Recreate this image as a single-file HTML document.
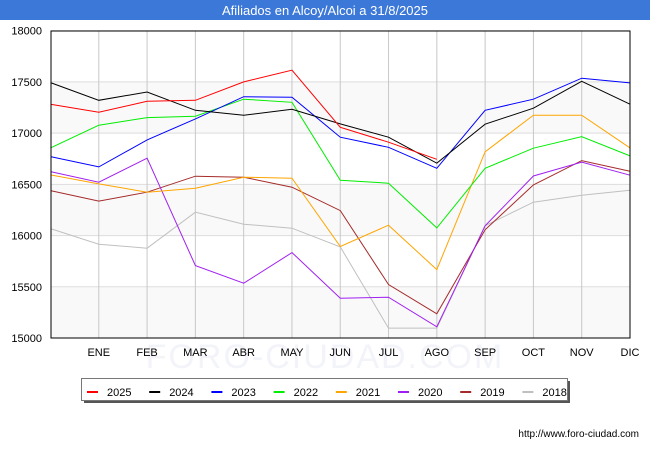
<!DOCTYPE html>
<html><head><meta charset="utf-8"><style>
body{margin:0;background:#fff;font-family:"Liberation Sans","DejaVu Sans",sans-serif}
</style></head><body>
<svg id="c" width="650" height="450" xmlns="http://www.w3.org/2000/svg">
<rect x="0" y="0" width="650" height="20" fill="#3c78d8"/>
<text x="325" y="15" text-anchor="middle" font-size="13" fill="#fff">Afiliados en Alcoy/Alcoi a 31/8/2025</text>
<text x="325" y="368" text-anchor="middle" font-size="34" fill="#f3f4f9" letter-spacing="2">FORO-CIUDAD.COM</text>
<g id="grid"></g>
<g id="series"></g>
<rect x="51" y="31" width="579" height="307" fill="none" stroke="#000" stroke-width="1"/>
<g id="legend"></g>
<text x="639" y="437" text-anchor="end" font-size="10" fill="#000">http://www.foro-ciudad.com</text>
</svg>
<script>
const months=["","ENE","FEB","MAR","ABR","MAY","JUN","JUL","AGO","SEP","OCT","NOV","DIC"];
const yTicks=[15000,15500,16000,16500,17000,17500,18000];
const years=["2025","2024","2023","2022","2021","2020","2019","2018"];
const colors=["#ff0000","#000000","#0000ff","#00ee00","#ffa500","#a020f0","#a52a2a","#c0c0c0"];
const s2025=[17282,17204,17311,17321,17500,17614,17057,16911,16745];
const s2024=[17493,17321,17402,17223,17175,17233,17090,16960,16706,17087,17243,17506,17282];
const s2023=[16771,16670,16934,17139,17356,17350,16960,16862,16657,17223,17331,17536,17490];
const s2022=[16856,17077,17152,17165,17331,17301,16540,16511,16075,16657,16853,16966,16778];
const s2021=[16592,16504,16423,16462,16570,16560,15893,16101,15668,16818,17175,17175,16856];
const s2020=[16624,16521,16755,15707,15535,15834,15389,15398,15109,16095,16582,16716,16589];
const s2019=[16439,16336,16423,16580,16570,16472,16244,15522,15236,16056,16495,16732,16628];
const s2018=[16068,15916,15877,16228,16111,16072,15889,15097,15097,16095,16326,16394,16443];
const seriesList=[s2025,s2024,s2023,s2022,s2021,s2020,s2019,s2018];
const NS="http://www.w3.org/2000/svg";
const X0=50.5,X1=630,Y0=338,Y1=30.7,VMIN=15000,VMAX=18000;
const xs=i=>X0+(X1-X0)*i/(months.length-1);
const ys=v=>Y0-(v-VMIN)/(VMAX-VMIN)*(Y0-Y1);
function mk(tag,attrs,parent){const e=document.createElementNS(NS,tag);for(const k in attrs)e.setAttribute(k,attrs[k]);parent.appendChild(e);return e;}
const grid=document.getElementById('grid');
for(let i=0;i<yTicks.length-1;i++){
  if(i%2===0){const r=mk('rect',{x:51,y:ys(yTicks[i+1]),width:579,height:ys(yTicks[i])-ys(yTicks[i+1]),fill:'#f7f7f7','fill-opacity':0.8},grid);
  
  }
}
yTicks.forEach(v=>{
  const l=mk('line',{x1:51,x2:630,y1:ys(v),y2:ys(v),stroke:'#dddddd'},grid);
  
  
  const t=mk('text',{x:42,y:ys(v)+4,'text-anchor':'end','font-size':11},grid);t.textContent=v;
  
  
});
months.forEach((m,i)=>{
  if(i===0)return;
  const l=mk('line',{x1:xs(i),x2:xs(i),y1:31,y2:338,stroke:'#c8c8c8'},grid);
  
  
  const t=mk('text',{x:xs(i),y:356,'text-anchor':'middle','font-size':11},grid);t.textContent=m;
  
  
});
const sg=document.getElementById('series');
for(let k=seriesList.length-1;k>=0;k--){
  const d=seriesList[k].map((v,i)=>xs(i).toFixed(1)+','+ys(v).toFixed(1)).join(' ');
  const p=mk('polyline',{points:d,fill:'none',stroke:colors[k],'stroke-width':1},sg);
  
  
}
const lg=document.getElementById('legend');
mk('rect',{x:84,y:381,width:486,height:22,fill:'#555'},lg);
const box=mk('rect',{x:81.5,y:378.5,width:486,height:22,fill:'#fff',stroke:'#777'},lg);


years.forEach((y,k)=>{
  const x=87+k*62.2;
  const l=mk('line',{x1:x,x2:x+11,y1:392,y2:392,stroke:colors[k],'stroke-width':2},lg);
  
  
  const t=mk('text',{x:x+20,y:396,'font-size':11},lg);t.textContent=y;
  
  
});
</script>
</body></html>
